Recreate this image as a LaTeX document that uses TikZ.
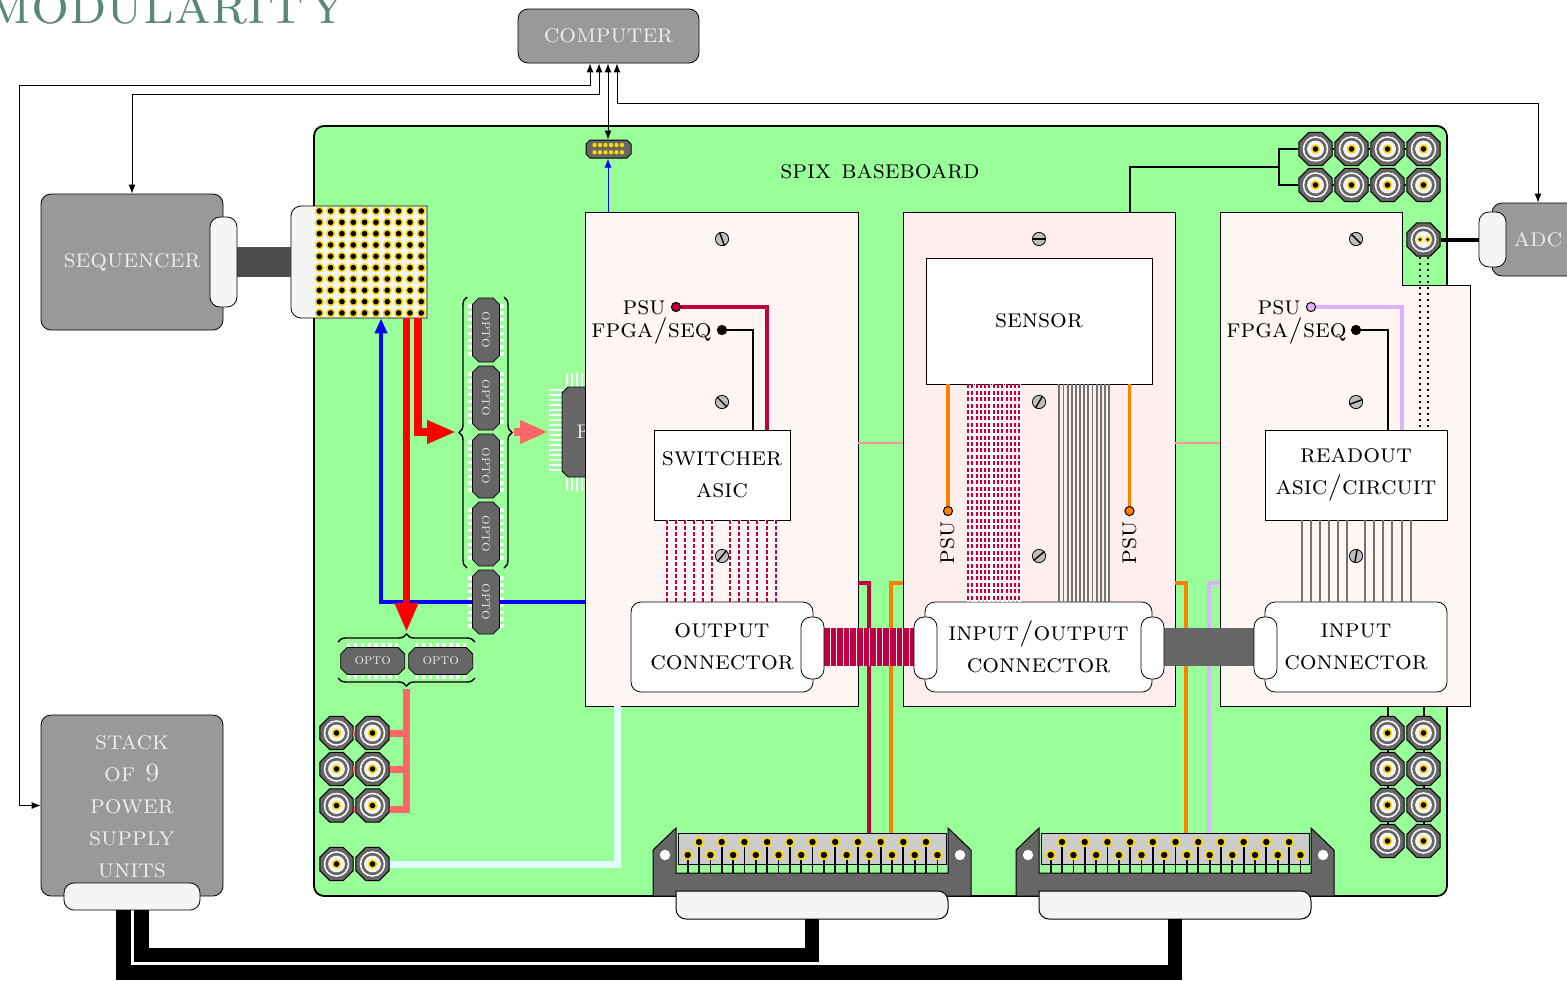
\documentclass[tikz,border=0pt]{standalone}
\usepackage{amsmath}
\usetikzlibrary{positioning,arrows.meta,calc,shapes.geometric,shapes.misc,decorations.pathreplacing}

\definecolor{boardgreen}{HTML}{99FF99}
\definecolor{pcbwarm}{HTML}{FFF5F3}
\definecolor{pcbpink}{HTML}{FFEEEE}
\definecolor{crimsonwire}{HTML}{BF0040}
\definecolor{orangewire}{HTML}{FF8000}
\definecolor{lilacwire}{HTML}{DFB0FF}
\definecolor{pinkwire}{HTML}{FF6666}
\definecolor{cyanwire}{HTML}{E0FFFF}
\definecolor{pingold}{HTML}{FFD700}
\definecolor{titleteal}{HTML}{5B877B}
\definecolor{plugwhite}{HTML}{F5F5F5}
\definecolor{chipgray}{HTML}{666666}
\definecolor{unitgray}{HTML}{999999}

\newcommand{\bnc}[3]{%
  \node[bncbody] (#1) at (#2,#3) {};
  \fill[white] (#1) circle[radius=6.4pt];
  \fill[chipgray] (#1) circle[radius=5.6pt];
  \fill[plugwhite] (#1) circle[radius=4.2pt];
}
\newcommand{\bncpin}[3]{%
  \bnc{#1}{#2}{#3}
  \fill[pingold] (#1) circle[radius=2.4pt];
  \fill[black] (#1) circle[radius=1.4pt];
}
\newcommand{\screw}[4]{%
  \node[screwhead] (#1) at (#2,#3) {};
  \pgfmathsetmacro{\screwend}{#4+180}
  \draw[line width=.7pt] (#1.#4) -- (#1.\screwend);
}
\newcommand{\opto}[4]{%
  \begin{scope}[shift={(#2,#3)},rotate=#4]
    \foreach \d in {-24,-17.14,...,24.1} \draw[optopin] (\d,-18) -- (\d,18);
    \node[optobody,rotate=#4] (#1) at (0,0) {opto};
  \end{scope}
}
\newcommand{\dsub}[2]{%
  \begin{scope}[xshift=#2*0.5pt]
    \draw[fill=chipgray,line width=.5pt] (653,896) -- (653,850) -- (676,828) -- (676,873) -- (948,873) -- (948,828) -- (971,850) -- (971,896) -- cycle;
    \fill[white] (665,855) circle[radius=2.6pt];
    \fill[white] (960,855) circle[radius=2.6pt];
    \node[draw,fill=black!20,sized={268}{31}] (#1) at (812,848.5) {};
    \foreach \x in {687.7,710.4,...,940} {
      \draw[line width=.9pt] (\x,855) -- (\x,873);
      \fill[pingold] (\x,855) circle[radius=2.6pt];
      \fill[black] (\x,855) circle[radius=1.6pt];
    }
    \foreach \x in {699,721.7,...,930} {
      \draw[line width=.9pt] (\x,842) -- (\x,873);
      \fill[pingold] (\x,842) circle[radius=2.6pt];
      \fill[black] (\x,842) circle[radius=1.6pt];
    }
    \node[sized={272}{28}] (#1plug) at (812,905) {};
    \draw[fill=plugwhite,line width=.5pt] (676,891) [rounded corners=5pt] -- (676,919) -- (948,919) -- (948,891) [sharp corners] -- cycle;
  \end{scope}
}

\begin{document}
\begin{tikzpicture}[
    x=0.5pt, y=-0.5pt,
    sized/.style 2 args={minimum width=#1*0.5pt, minimum height=#2*0.5pt, inner sep=0pt},
    txt/.style={font=\fontsize{13.2}{16}\selectfont\scshape, align=center, inner sep=0pt},
    unit/.style={draw, fill=unitgray, rounded corners=5pt, text=white!93!black, txt},
    plug/.style={draw, fill=plugwhite, rounded corners=5pt},
    whiteplug/.style={draw, fill=white, rounded corners=5pt},
    pcbbox/.style={draw, inner sep=0pt},
    chipbox/.style={draw, fill=white, txt},
    bncbody/.style={draw, fill=chipgray, regular polygon, regular polygon sides=8, minimum size=17.9pt, inner sep=0pt, line width=.5pt},
    screwhead/.style={draw, circle, fill=black!25, minimum size=6.6pt, inner sep=0pt, line width=.4pt},
    optobody/.style={draw, fill=chipgray, chamfered rectangle, chamfered rectangle xsep=1.6pt, chamfered rectangle ysep=1.6pt, minimum width=32pt, minimum height=13.5pt, inner sep=0pt, font=\fontsize{7.5}{8}\selectfont\scshape, text=white!90!black},
    optopin/.style={draw=white, line width=1.7pt},
    dot/.style={draw, circle, minimum size=4.6pt, inner sep=0pt, line width=.5pt},
    wire/.style={line width=.45pt},
    biarrow/.style={wire, {Latex[length=4.5pt,width=3.5pt]}-{Latex[length=4.5pt,width=3.5pt]}},
    blackwire/.style={line width=1pt},
    crimwire/.style={draw=crimsonwire, line width=1.8pt},
    orwire/.style={draw=orangewire, line width=1.8pt},
    lilwire/.style={draw=lilacwire, line width=1.8pt},
    grayline/.style={draw=black!55, line width=.9pt},
    bigbrace/.style={decorate, decoration={brace,amplitude=4pt}, line width=.7pt},
    cable/.style={line width=7.35pt},
]
\useasboundingbox (0,0) rectangle (1567,980);

\node[font=\fontsize{30}{32}\selectfont\scshape, text=titleteal, anchor=base east, inner sep=0pt] (title) at (347,23) {modulari\kern1.5pt t\kern3pt y};

% units around the board
\node[unit, sized={181}{54}] (computer) at (608.5,36) {computer};
\node[unit, sized={182}{136}] (sequencer) at (132,262) {};
\node[txt, text=white!93!black] (seqlabel) at (132,262) {sequencer};
\node[unit, sized={182}{181}] (stack) at (132,805.5) {};
\node[txt, text=white!93!black] (stacklabel) at (132,807) {stack\\of 9\\power\\supply\\units};
\node[unit, sized={92}{73}] (adc) at (1538,239.5) {adc};

% board
\node[draw, fill=boardgreen, rounded corners=5pt, line width=.9pt, sized={1133}{770}] (board) at (880.5,511) {};
\node[txt] (boardlabel) at (880,172) {spix baseboard};

\node[draw, fill=chipgray, chamfered rectangle, chamfered rectangle xsep=2.2pt, chamfered rectangle ysep=2.2pt, sized={45}{18}, line width=.5pt] (usb) at (608.5,149) {\rule{0pt}{4pt}\hspace{12pt}};
\foreach \x in {594.5,600,...,623} {
  \fill[pingold] (\x,145) circle[radius=1.1pt];
  \fill[pingold] (\x,152.3) circle[radius=1.1pt];
}

% fpga behind the left pcb
\foreach \y in {390,395,...,474} \draw[draw=white, line width=.7pt] (549,\y) -- (575,\y);
\foreach \x in {567,572,...,650} \draw[draw=white, line width=.7pt] (\x,373) -- (\x,491);
\node[draw, fill=chipgray, chamfered rectangle, chamfered rectangle xsep=1.5pt, chamfered rectangle ysep=1.5pt, sized={90}{90}, txt, text=white!90!black] (fpga) at (607,432) {fpga};

% pcbs
\node[pcbbox, fill=pcbwarm, sized={273}{494}] (pcbleft) at (721.5,459) {};
\node[pcbbox, fill=pcbpink, sized={272}{494}] (pcbmid) at (1039,459) {};
\node[sized={250}{494}] (pcbright) at (1345,459) {};
\draw[fill=pcbwarm] (1220,212) -- (1402,212) -- (1402,285) -- (1470,285) -- (1470,706) -- (1220,706) -- cycle;
\draw[draw=pinkwire!70, line width=.6pt] (pcbleft.east |- 0,443) -- (pcbmid.west |- 0,443);
\draw[draw=pinkwire!70, line width=.6pt] (pcbmid.east |- 0,443) -- (pcbright.west |- 0,443);

% socket for the sequencer
\node[sized={136}{112}] (socket) at (359,262) {};
\draw[fill=plugwhite] (427,206) -- (427,318) [rounded corners=5pt] -- (291,318) -- (291,206) [sharp corners] -- cycle;
\foreach \x in {319.3,330.63,...,422} \foreach \y in {211,222.33,...,314} {
  \fill[pingold] (\x,\y) circle[radius=2.3pt];
  \fill[black] (\x,\y) circle[radius=1.4pt];
}
\coordinate (seqplugedge) at (237,262);
\draw[draw=black!70, line width=15pt] (seqplugedge) -- (socket.west);
\node[plug, sized={27}{90}] (seqplug) at (223.5,262) {};

% optos
\opto{optoa}{486}{330}{-90}
\opto{optob}{486}{398}{-90}
\opto{optoc}{486}{466}{-90}
\opto{optod}{486}{534}{-90}
\coordinate (optoeedge) at (486,602);
\draw[draw=blue, line width=1.8pt, -{Triangle[length=7.5pt,width=6pt]}] (pcbleft.west |- optoeedge) -| (381,0 |- socket.south);
\opto{optoe}{486}{602}{-90}
\opto{optof}{372.7}{661}{0}
\opto{optog}{440.7}{661}{0}
\draw[bigbrace] (467,568) -- (467,297);
\draw[bigbrace] (504,297) -- (504,568);
\draw[bigbrace] (338,642) -- (475,642);
\draw[bigbrace] (475,678) -- (338,678);
\coordinate (bracetop) at (406.5,632);
\coordinate (braceleft) at (456,432);
\coordinate (braceright) at (514,432);
\coordinate (fpgapins) at (548,432);
\draw[draw=red, line width=3.5pt, -{Triangle[length=14.5pt,width=11pt]}] (406.5,0 |- socket.south) -- (bracetop);
\draw[draw=red, line width=3.6pt, -{Triangle[length=14.5pt,width=11pt]}] (418,0 |- socket.south) |- (braceleft);
\draw[draw=pinkwire, line width=4pt, -{Triangle[length=14pt,width=11pt]}] (braceright) -- (fpgapins);

% bnc on the left
\bncpin{bnca}{336.5}{733}
\bncpin{bncb}{372.5}{733}
\bncpin{bncc}{336.5}{769}
\bncpin{bncd}{372.5}{769}
\bncpin{bnce}{336.5}{805.5}
\bncpin{bncf}{372.5}{805.5}
\bncpin{bncg}{336.5}{864}
\bncpin{bnch}{372.5}{864}
\draw[draw=pinkwire, line width=3.5pt] (406.5,689) -- (406.5,0 |- bncd.east);
\foreach \a/\b in {bnca/bncb,bncc/bncd} \draw[draw=pinkwire, line width=3.5pt] (\a) ++(16.5,0) -- (\b.west);
\draw[draw=pinkwire, line width=3.5pt] (bncb.east) -- (406.5,0 |- bncb.east);
\draw[draw=pinkwire, line width=3.5pt] (bncd.east) -- (406.5,0 |- bncd.east);
\draw[draw=pinkwire, line width=3.5pt] (bnce.east |- 0,809.7) -- (bncf.west |- 0,809.7);
\draw[draw=pinkwire, line width=3.5pt] (bncf.east |- 0,809.7) -| (406.5,0 |- bncd.east);
\draw[draw=cyanwire, line width=3.5pt] (bnch.east) -| (617.5,0 |- pcbleft.south);

% bnc on the right
\foreach \c/\x in {a/1315.5,b/1351.5,c/1387.5,d/1423.5} {
  \bncpin{top\c}{\x}{149}
  \bncpin{low\c}{\x}{185}
}
\foreach \a/\b in {topa/topb,topb/topc,topc/topd,lowa/lowb,lowb/lowc,lowc/lowd} \draw[blackwire] (\a) ++(16.5,0) -- (\b.west);
\coordinate (fork) at (1279,167);
\draw[blackwire] (1130,0 |- pcbmid.north) |- (fork);
\draw[blackwire] (topa.west) -| (fork);
\draw[blackwire] (lowa.west) -| (fork);
\foreach \c/\y in {a/733,b/769,c/805,d/841} {
  \bncpin{rl\c}{1387.5}{\y}
  \bncpin{rr\c}{1423.5}{\y}
}
\foreach \a/\b in {rla/rlb,rlb/rlc,rlc/rld,rra/rrb,rrb/rrc,rrc/rrd} \draw[blackwire] (\a) ++(0,16.5) -- (\b.north);
\draw[blackwire] (1387.5,706) -- (rla.north);
\draw[blackwire] (1423.5,706) -- (rra.north);

\bnc{adcbnc}{1423.5}{239.5}
\fill[pingold] (1420,239.5) circle[radius=1.6pt];
\fill[pingold] (1427.7,239.5) circle[radius=1.6pt];
\fill[black] (1420,239.5) circle[radius=.8pt];
\fill[black] (1427.7,239.5) circle[radius=.8pt];
\node[plug, sized={27}{55}] (adcplug) at (1492.5,239.5) {};
\draw[line width=2pt] (adcbnc.east) -- (adcplug.west);

% left pcb content
\screw{screwa}{722}{239}{110}
\screw{screwb}{722}{402}{135}
\screw{screwc}{722}{556}{50}
\node[chipbox, sized={136}{90}] (switcher) at (722,475) {switcher\\asic};
\node[whiteplug, txt, sized={182}{90}] (outconn) at (722,647) {output\\connector};
\node[txt, anchor=east] (psua) at (666,308) {psu};
\node[txt, anchor=east] (fpgaa) at (712,331) {fpga/seq};
\node[dot, fill=crimsonwire] (psudota) at (676,307) {};
\node[dot, fill=black] (fpgadota) at (722,330) {};
\draw[crimwire] (psudota) -| (767,0 |- switcher.north);
\draw[blackwire] (fpgadota) -| (753,0 |- switcher.north);
\foreach \x in {667.3,676.3,685.3,694.3,703.3,712.3,730.3,739.3,748.3,757.3,766.7,775.7} {
  \draw[draw=white, line width=1.5pt] (\x,0 |- switcher.south) -- (\x,0 |- outconn.north);
  \draw[draw=crimsonwire, line width=1pt, dash pattern=on 2pt off 1pt] (\x,0 |- switcher.south) -- (\x,0 |- outconn.north);
}

% middle pcb content
\screw{screwd}{1039}{239}{0}
\screw{screwe}{1039}{402}{60}
\screw{screwf}{1039}{556}{40}
\node[chipbox, sized={226}{126}] (sensor) at (1039,321) {sensor};
\node[whiteplug, txt, sized={227}{90}] (ioconn) at (1038.5,647) {input/output\\connector};
\node[dot, fill=orangewire] (psudotb) at (948,511) {};
\node[dot, fill=orangewire] (psudotc) at (1129.5,511) {};
\node[txt, rotate=90] (psub) at (948,543) {psu};
\node[txt, rotate=90] (psuc) at (1129.5,543) {psu};
\draw[orwire] (948,0 |- sensor.south) -- (psudotb);
\draw[orwire] (1129.5,0 |- sensor.south) -- (psudotc);
\foreach \x in {968,972.28,...,1020} {
  \draw[draw=white, line width=1.3pt] (\x,0 |- sensor.south) -- (\x,0 |- ioconn.north);
  \draw[draw=crimsonwire, line width=1pt, dash pattern=on 2pt off 1.2pt] (\x,0 |- sensor.south) -- (\x,0 |- ioconn.north);
}
\foreach \x in {1059.3,1063.45,...,1110} \draw[grayline] (\x,0 |- sensor.south) -- (\x,0 |- ioconn.north);

% right pcb content
\screw{screwg}{1356}{239}{135}
\screw{screwh}{1356}{402}{20}
\screw{screwi}{1356}{556}{80}
\node[chipbox, sized={182}{90}] (readout) at (1356,475) {readout\\asic/circuit};
\node[whiteplug, txt, sized={182}{90}] (inconn) at (1356,647) {input\\connector};
\node[txt, anchor=east] (psud) at (1301,308) {psu};
\node[txt, anchor=east] (fpgab) at (1347,331) {fpga/seq};
\node[dot, fill=lilacwire] (psudotd) at (1311,307) {};
\node[dot, fill=black] (fpgadotb) at (1356,330) {};
\draw[lilwire] (psudotd) -| (1402,0 |- readout.north);
\draw[blackwire] (fpgadotb) -| (1388,0 |- readout.north);
\draw[blackwire, dotted] (1420,0 |- adcbnc.south) -- (1420,0 |- readout.north);
\draw[blackwire, dotted] (1427.7,0 |- adcbnc.south) -- (1427.7,0 |- readout.north);
\foreach \x in {1301.7,1310.7,1320,1329,1338,1347,1365.3,1374.3,1383.3,1392.3,1401.7,1410.7} \draw[grayline] (\x,0 |- readout.south) -- (\x,0 |- inconn.north);

% bottom connectors
\dsub{dsuba}{0}
\dsub{dsubb}{363}
\draw[crimwire, line width=1.6pt] (pcbleft.east |- 0,583) -| (869,0 |- dsuba.north);
\draw[orwire, line width=1.6pt] (pcbmid.west |- 0,583) -| (891,0 |- dsuba.north);
\draw[orwire, line width=1.6pt] (pcbmid.east |- 0,583) -| (1186,0 |- dsubb.north);
\draw[lilwire, line width=1.6pt] (pcbright.west |- 0,583) -| (1209,0 |- dsubb.north);

% ribbons
\node[fill=crimsonwire, sized={90}{38}] (ribbona) at (869,647) {};
\foreach \x in {830,836.6,...,910} \draw[draw=white!85!pink, line width=.4pt] (\x,0 |- ribbona.north) -- (\x,0 |- ribbona.south);
\node[fill=chipgray, sized={90}{38}] (ribbonb) at (1209,647) {};
\node[whiteplug, sized={23}{62}] (outplug) at (812.5,648) {};
\node[whiteplug, sized={23}{62}] (ioplugl) at (925.5,648) {};
\node[whiteplug, sized={23}{62}] (ioplugr) at (1152.5,648) {};
\node[whiteplug, sized={23}{62}] (inplug) at (1265.5,648) {};

% power cables and computer links
\node[plug, sized={136}{27}] (stackplug) at (132,896.5) {};
\draw[cable] (dsubaplug.south) |- (141.3,955) -- (141.3,0 |- stackplug.south);
\draw[cable] (dsubbplug.south) |- (123.3,972.7) -- (123.3,0 |- stackplug.south);
\draw[biarrow] (stack.west) -- (19,0 |- stack.west) |- (590,85) -- (590,0 |- computer.south);
\draw[biarrow] (sequencer.north) |- (599,94) -- (599,0 |- computer.south);
\draw[biarrow] (608,0 |- computer.south) -- (608,0 |- usb.north);
\draw[biarrow] (617,0 |- computer.south) |- (adc.north |- 0,103) -- (adc.north);
\draw[draw=blue, wire, -{Latex[length=4.5pt,width=3.5pt]}] (608,0 |- pcbleft.north) -- (608,0 |- usb.south);
\end{tikzpicture}
\end{document}
